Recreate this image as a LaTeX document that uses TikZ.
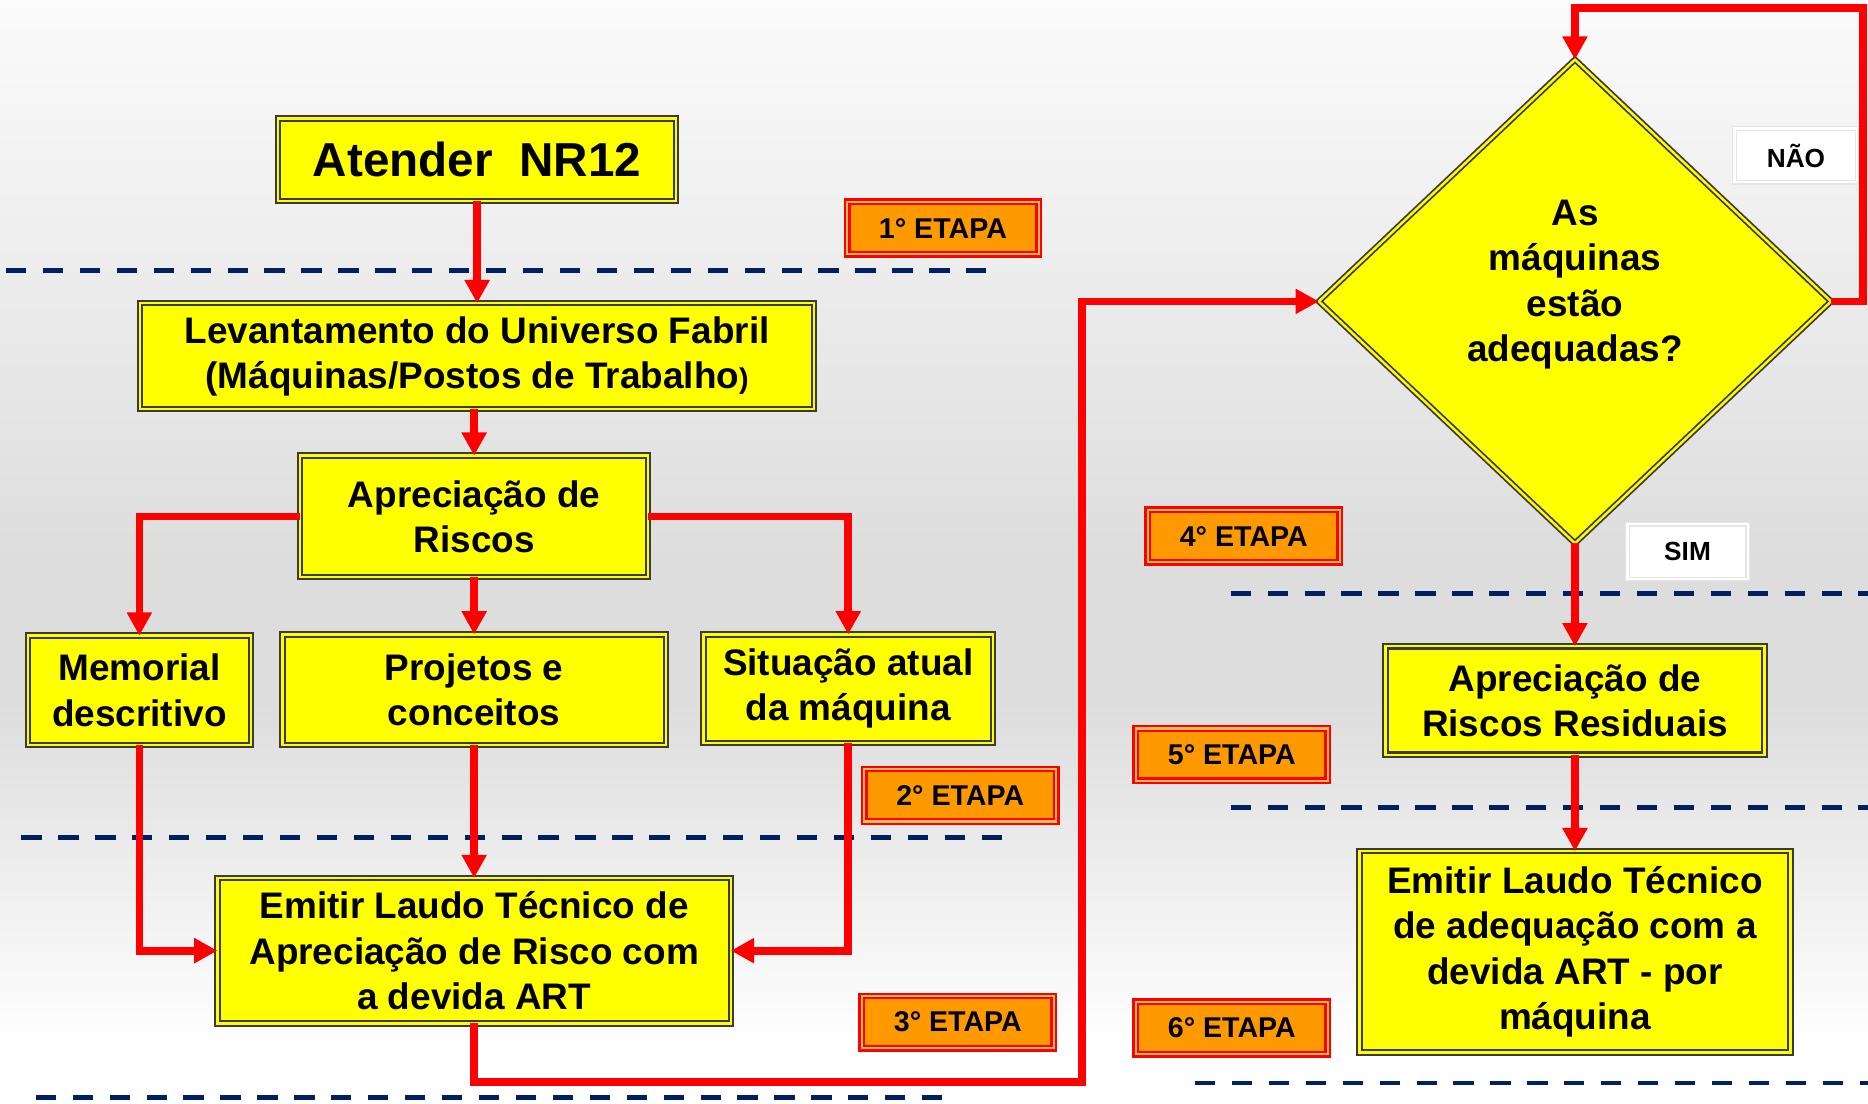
\documentclass[tikz,border=0pt]{standalone}
\usepackage{fontspec}
\setmainfont{Liberation Sans}
\usetikzlibrary{shapes.geometric,arrows.meta}
\definecolor{boxyellow}{HTML}{FFFF00}
\definecolor{etapaorange}{HTML}{FF9900}
\definecolor{navy}{HTML}{002060}
\definecolor{borderdark}{HTML}{3A3A3A}
\definecolor{bgtop}{HTML}{FBFBFB}
\definecolor{bgmid}{HTML}{DDDDDD}
\begin{document}
\begin{tikzpicture}[x=1pt,y=-1pt,
  ybox/.style={rectangle, draw=borderdark, line width=1.7pt, double=boxyellow, double distance=2pt, fill=boxyellow, inner sep=0pt, outer sep=0pt, align=center, font=\fontsize{31}{38}\selectfont\bfseries},
  etapa/.style={rectangle, draw=red, line width=2pt, double=white!35!etapaorange, double distance=1.8pt, fill=etapaorange, minimum width=161pt, minimum height=44pt, inner sep=0pt, outer sep=0pt, font=\fontsize{24}{24}\selectfont\bfseries},
  answer/.style={rectangle, draw=black!10, line width=1pt, double=white, double distance=2pt, fill=white, inner sep=0pt, outer sep=0pt, font=\fontsize{22}{22}\selectfont\bfseries},
  flow/.style={draw=red, line width=6.5pt, -{Triangle[length=19.5pt,width=20pt]}},
  sepline/.style={draw=navy, line width=4pt, dash pattern=on 17pt off 14pt},
]
\useasboundingbox (0,0) rectangle (1568,926);
% background
\shade[top color=bgtop, bottom color=bgmid] (0,0) rectangle (1568,470);
\fill[bgmid] (0,469) rectangle (1568,590);
\shade[top color=bgmid, bottom color=white] (0,589) rectangle (1568,880);
\fill[white] (0,879) rectangle (1568,926);

% separator lines
\draw[sepline] (5,227) -- (836,227);
\draw[sepline] (18,703) -- (842,703);
\draw[sepline] (30,921) -- (795,921);
\draw[sepline] (1033,498) -- (1568,498);
\draw[sepline] (1033,678) -- (1568,678);
\draw[sepline] (1003,909) -- (1568,909);

% left column boxes
\node[ybox, minimum width=334pt, minimum height=69pt, font=\fontsize{40}{46}\selectfont\bfseries] (nr12) at (400.5,134) {Atender\ \ NR12};
\node[ybox, minimum width=566pt, minimum height=89pt] (lev) at (400.5,299) {Levantamento do Universo Fabril\\(Máquinas/Postos de Trabalho{\fontsize{24}{24}\selectfont)}};
\node[ybox, minimum width=292pt, minimum height=102pt] (apr) at (398,433.5) {Apreciação de\\Riscos};
\node[ybox, minimum width=187pt, minimum height=92pt] (mem) at (117,579.5) {Memorial\\descritivo};
\node[ybox, minimum width=322pt, minimum height=93pt] (proj) at (398,579) {Projetos e\\conceitos};
\node[ybox, minimum width=243pt, minimum height=91pt] (sit) at (712,578) {Situação atual\\da máquina};
\node[ybox, minimum width=431pt, minimum height=122pt] (emi) at (398,798) {Emitir Laudo Técnico de\\Apreciação de Risco com\\a devida ART};

% right column
\node[diamond, draw=borderdark, line width=1.5pt, double=boxyellow, double distance=2pt, fill=boxyellow, inner sep=0pt, outer sep=0pt, minimum width=430pt, minimum height=406pt] (dia) at (1322,253) {};
\node[align=center, font=\fontsize{31}{38}\selectfont\bfseries] (diatxt) at (1322,239) {As\\máquinas\\estão\\adequadas?};
\node[ybox, minimum width=318pt, minimum height=91pt] (res) at (1322,588) {Apreciação de\\Riscos Residuais};
\node[ybox, minimum width=362pt, minimum height=169pt] (emi2) at (1322,799) {Emitir Laudo Técnico\\de adequação com a\\devida ART - por\\máquina};

% answer labels
\node[answer, minimum width=103pt, minimum height=45pt] (nao) at (1507.5,130.5) {NÃO};
\node[answer, minimum width=101pt, minimum height=46pt] (sim) at (1416.5,463) {SIM};

% etapa labels
\node[etapa] (e1) at (791.5,191.5) {1° ETAPA};
\node[etapa] (e2) at (806,667.5) {2° ETAPA};
\node[etapa] (e3) at (804,858) {3° ETAPA};
\node[etapa] (e4) at (1044,450) {4° ETAPA};
\node[etapa] (e5) at (1034,633.5) {5° ETAPA};
\node[etapa] (e6) at (1034,863) {6° ETAPA};

% connectors
\coordinate (c1) at (908,908);
\coordinate (c2) at (1564,7);
\draw[flow] (nr12.south) -- (lev.north);
\draw[flow] (lev.south -| apr.north) -- (apr.north);
\draw[flow] (apr.west) -| (mem.north);
\draw[flow] (apr.south) -- (proj.north);
\draw[flow] (apr.east) -| (sit.north);
\draw[flow] (mem.south) |- (emi.west);
\draw[flow] (proj.south) -- (emi.north);
\draw[flow] (sit.south) |- (emi.east);
\draw[flow] (emi.south) |- (c1) |- (dia.west);
\draw[flow] (dia.east) -| (c2) -| (dia.north);
\draw[flow] (dia.south) -- (res.north);
\draw[flow] (res.south) -- (emi2.north);
\end{tikzpicture}
\end{document}
